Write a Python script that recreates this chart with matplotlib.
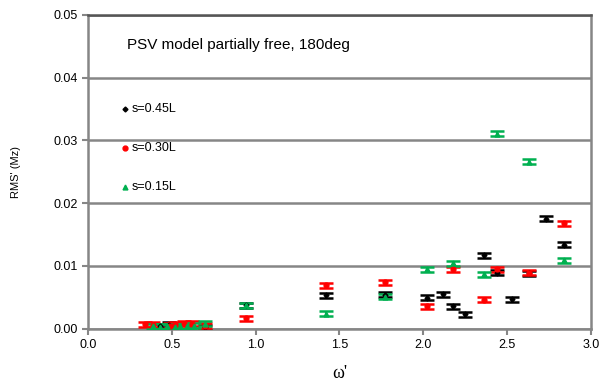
import matplotlib.pyplot as plt

# omega' and RMS' (Mz) for each sensor position, with error bar half-widths
w_045 = [0.43, 0.48, 0.70, 0.943, 1.418, 1.77, 2.025, 2.118, 2.18, 2.25, 2.36, 2.44, 2.53, 2.63, 2.73, 2.84]
rms_045 = [0.0004, 0.0006, 0.0002, 0.0037, 0.0053, 0.0054, 0.0049, 0.0055, 0.0036, 0.0023, 0.0117, 0.0089, 0.0047, 0.0088, 0.0175, 0.0134]

w_030 = [0.34, 0.39, 0.49, 0.52, 0.57, 0.62, 0.70, 0.943, 1.418, 1.77, 2.025, 2.18, 2.36, 2.44, 2.63, 2.84]
rms_030 = [0.0007, 0.0006, 0.0005, 0.0007, 0.0008, 0.0008, 0.0005, 0.0017, 0.0069, 0.0074, 0.0036, 0.0095, 0.0046, 0.0095, 0.0089, 0.0168]

w_015 = [0.39, 0.43, 0.47, 0.52, 0.55, 0.59, 0.63, 0.70, 0.943, 1.418, 1.77, 2.025, 2.18, 2.36, 2.44, 2.63, 2.84]
rms_015 = [0.0004, 0.0003, 0.0004, 0.0003, 0.0004, 0.0004, 0.0005, 0.0008, 0.0037, 0.0024, 0.0051, 0.0095, 0.0104, 0.0087, 0.0311, 0.0266, 0.0109]

err = 0.0004

plt.rcParams['font.family'] = ['Liberation Sans', 'DejaVu Sans']

fig = plt.figure(figsize=(6.03, 3.92), dpi=100)
ax = fig.add_axes([0.146, 0.1615, 0.834, 0.8005])

series = [
    (w_045, rms_045, 'black', 'D', 2.5, 's=0.45L'),
    (w_030, rms_030, '#ff0000', 'o', 3.5, 's=0.30L'),
    (w_015, rms_015, '#00b050', '^', 3.5, 's=0.15L'),
]
for w, rms, col, mk, ms, lab in series:
    ax.errorbar(w, rms, yerr=err, fmt=mk, color=col, ms=ms, ecolor=col,
                elinewidth=1.5, capsize=5, capthick=1.8, zorder=3)

ax.set_xlim(0, 3.0)
ax.set_ylim(0, 0.05)
ax.set_xticks([0.0, 0.5, 1.0, 1.5, 2.0, 2.5, 3.0])
ax.set_yticks([0.0, 0.01, 0.02, 0.03, 0.04, 0.05])
ax.xaxis.set_major_formatter(plt.FormatStrFormatter('%.1f'))
ax.yaxis.set_major_formatter(plt.FormatStrFormatter('%.2f'))
ax.tick_params(labelsize=9, color='#868686', width=1.5, length=4, direction='out')
ax.grid(axis='y', color='#868686', lw=1.8)
ax.set_axisbelow(True)
for side in ['left', 'bottom', 'right']:
    ax.spines[side].set_color('#868686')
    ax.spines[side].set_linewidth(1.8)
ax.spines['top'].set_color('#555555')
ax.spines['top'].set_linewidth(1.8)

ax.set_ylabel("RMS' (Mz)", fontsize=8, labelpad=23)
ax.set_xlabel("ω'", fontsize=13, family='Liberation Serif', labelpad=10)

ax.text(0.078, 0.905, 'PSV model partially free, 180deg', transform=ax.transAxes,
        fontsize=11, va='center')

# hand-placed key inside the plot area
key_y = [0.035, 0.0288, 0.0226]
for (w, rms, col, mk, ms, lab), ky in zip(series, key_y):
    ax.plot([0.22], [ky], marker=mk, color=col, ms=ms, ls='none')
    ax.text(0.26, ky, lab, fontsize=9, va='center')

fig.savefig('out.png', dpi=100)
